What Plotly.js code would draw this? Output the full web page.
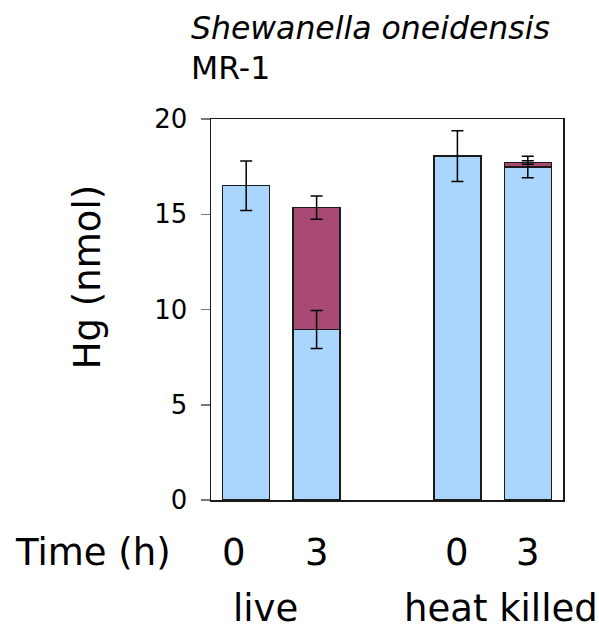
<!DOCTYPE html>
<html>
<head>
<meta charset="utf-8">
<script src="https://cdn.plot.ly/plotly-3.0.1.min.js"></script>
<style>html,body{margin:0;padding:0;background:#fff;}#chart{width:599px;height:632px;}</style>
</head>
<body>
<div id="chart"></div>
<script>
// Data
const barX = [0, 1, 3, 4];
const timeLabels = ['0', '3', '0', '3'];
const groupLabels = ['live', 'heat killed'];
const groupCenters = [0.27, 3.62];
const blueValues = [16.5, 8.95, 18.05, 17.48];
const blueErrors = [1.3, 1.0, 1.33, 0.56];
const purpleValues = [null, 6.4, null, 0.24];
const purpleErrors = [null, 0.61, null, 0.09];
const yTicks = [0, 5, 10, 15, 20];

const FONT = 'DejaVu Sans, Verdana, sans-serif';
const labelShift = [-12, 0, 0, 0];

// tops of the stacked purple segments (built from the data arrays)
const purpleTops = purpleValues.map((v, i) => v == null ? null : blueValues[i] + v);

const errStyle = {type: 'data', visible: true, color: '#000', thickness: 1.5, width: 6};

const traces = [
  {
    type: 'bar', x: barX, y: blueValues,
    marker: {color: '#aad5fc', line: {color: '#1a1a1a', width: 1.5}},
    hoverinfo: 'none'
  },
  {
    type: 'bar', x: barX, y: purpleValues,
    marker: {color: '#a94a74', line: {color: '#1a1a1a', width: 1.5}},
    hoverinfo: 'none'
  },
  {
    type: 'scatter', mode: 'markers', x: barX, y: blueValues,
    marker: {size: 1, opacity: 0},
    error_y: Object.assign({array: blueErrors}, errStyle),
    hoverinfo: 'none'
  },
  {
    type: 'scatter', mode: 'markers', x: barX, y: purpleTops,
    marker: {size: 1, opacity: 0},
    error_y: Object.assign({array: purpleErrors}, errStyle),
    hoverinfo: 'none'
  }
];

const annotations = [];
barX.forEach((x, i) => {
  annotations.push({
    x: x, y: -0.137, xref: 'x', yref: 'paper', text: timeLabels[i], showarrow: false,
    xshift: labelShift[i], xanchor: 'center', yanchor: 'middle', font: {family: FONT, size: 37, color: '#000'}
  });
});
groupLabels.forEach((t, i) => {
  annotations.push({
    x: groupCenters[i], y: -0.345, xref: 'x', yref: 'paper', text: t, showarrow: false, borderpad: 0,
    xanchor: 'center', yanchor: 'bottom', font: {family: FONT, size: 37, color: '#000'}
  });
});
annotations.push({
  x: -0.108, y: -0.137, xref: 'paper', yref: 'paper', text: 'Time (h)', showarrow: false,
  xanchor: 'right', yanchor: 'middle', font: {family: FONT, size: 37, color: '#000'}
});
annotations.push({
  x: -0.352, y: 0.585, xref: 'paper', yref: 'paper', text: 'Hg (nmol)', showarrow: false, textangle: -90,
  xanchor: 'center', yanchor: 'middle', font: {family: FONT, size: 37, color: '#000'}
});
annotations.push({
  x: -0.062, y: 1.240, xref: 'paper', yref: 'paper', text: '<i>Shewanella oneidensis</i>', showarrow: false,
  xanchor: 'left', yanchor: 'middle', font: {family: FONT, size: 31.5, color: '#000'}
});
annotations.push({
  x: -0.062, y: 1.135, xref: 'paper', yref: 'paper', text: 'MR-1', showarrow: false,
  xanchor: 'left', yanchor: 'middle', font: {family: FONT, size: 31.5, color: '#000'}
});

const layout = {
  width: 599, height: 632,
  margin: {l: 211, r: 36, t: 118.5, b: 131.5},
  paper_bgcolor: '#fff', plot_bgcolor: '#fff',
  showlegend: false,
  barmode: 'stack', bargap: 0.333,
  font: {family: FONT, color: '#000'},
  xaxis: {
    range: [-0.5, 4.5], showticklabels: false, ticks: '', showgrid: false, zeroline: false,
    showline: true, linecolor: '#1a1a1a', linewidth: 1.5, mirror: true
  },
  yaxis: {
    range: [0, 20], tickvals: yTicks, ticktext: yTicks.map(String),
    ticks: 'outside', ticklen: 9, tickcolor: '#777', tickwidth: 1.5,
    showgrid: false, zeroline: false,
    showline: true, linecolor: '#1a1a1a', linewidth: 1.5, mirror: true,
    tickfont: {family: FONT, size: 26, color: '#000'}, ticklabelstandoff: 8
  },
  annotations: annotations
};

Plotly.newPlot('chart', traces, layout, {staticPlot: true});
</script>
</body>
</html>
